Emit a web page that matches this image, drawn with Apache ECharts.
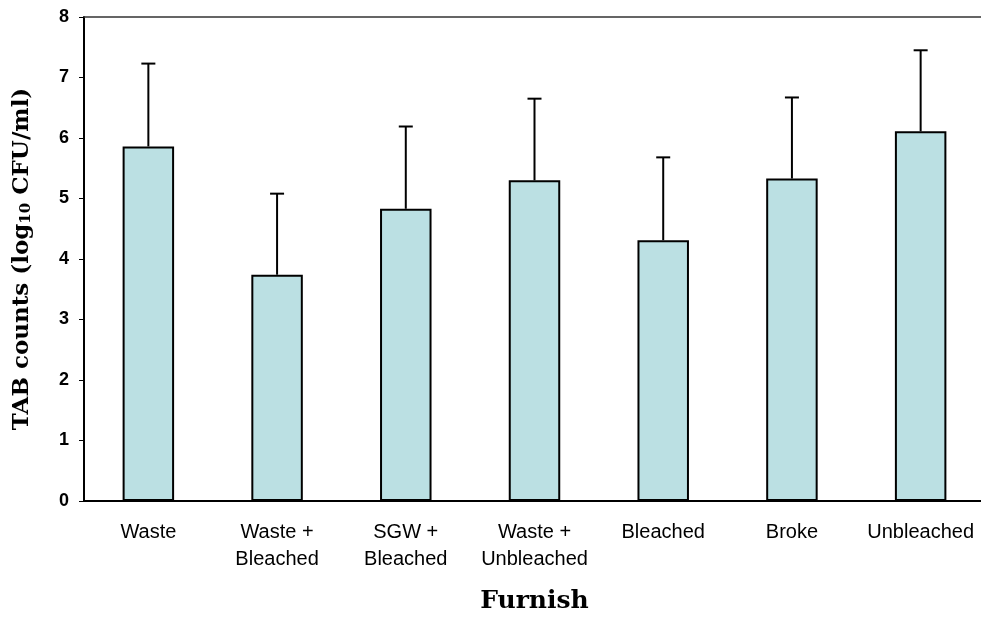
<!DOCTYPE html>
<html>
<head>
<meta charset="utf-8">
<script src="https://cdn.jsdelivr.net/npm/echarts@6/dist/echarts.min.js"></script>
<style>
  html, body { margin: 0; padding: 0; background: #fff; }
  #main { width: 981px; height: 622px; }
</style>
</head>
<body>
<div id="main"></div>
<script>
const categories = ["Waste", "Waste +\nBleached", "SGW +\nBleached", "Waste +\nUnbleached", "Bleached", "Broke", "Unbleached"];
const means = [5.86, 3.74, 4.83, 5.30, 4.31, 5.33, 6.11];
const errors = [1.37, 1.34, 1.36, 1.35, 1.37, 1.34, 1.34];
const yTicks = [0, 1, 2, 3, 4, 5, 6, 7, 8];

const chart = echarts.init(document.getElementById("main"));

const titleFont = "DejaVu Serif";

const option = {
  animation: false,
  grid: {
    left: 84,
    top: 17,
    right: -4,
    bottom: 121,
    outerBoundsMode: "none",
    containLabel: false,
  },
  xAxis: [
    {
      type: "category",
      data: categories,
      name: "Furnish",
      nameLocation: "middle",
      nameGap: 88,
      nameTextStyle: {
        fontFamily: titleFont,
        fontWeight: "bold",
        fontSize: 25,
        color: "#000",
      },
      axisLine: { lineStyle: { color: "#000", width: 2 } },
      axisTick: { length: 5, lineStyle: { color: "#000", width: 1 } },
      axisLabel: {
        fontFamily: "Liberation Sans",
        fontSize: 20,
        color: "#000",
        lineHeight: 27,
        margin: 18,
        interval: 0,
      },
    },
    {
      // top frame line only
      type: "category",
      position: "top",
      data: categories,
      axisLine: { lineStyle: { color: "#333", width: 1.5 } },
      axisTick: { show: false },
      axisLabel: { show: false },
    },
  ],
  yAxis: {
    type: "value",
    min: yTicks[0],
    max: yTicks[yTicks.length - 1],
    interval: 1,
    name: "{a|TAB counts (log}{s|10}{a| CFU/ml)}",
    nameLocation: "middle",
    nameGap: 50,
    nameTextStyle: {
      rich: {
        a: { fontFamily: titleFont, fontWeight: "bold", fontSize: 23, color: "#000" },
        s: { fontFamily: titleFont, fontWeight: "bold", fontSize: 15, color: "#000", verticalAlign: "bottom", padding: [8, 0, 0, 0] },
      },
    },
    axisLine: { show: true, lineStyle: { color: "#000", width: 2 } },
    axisTick: { show: true, length: 5, lineStyle: { color: "#000", width: 1 } },
    axisLabel: {
      fontFamily: "Liberation Sans",
      fontWeight: "bold",
      fontSize: 18,
      color: "#000",
      margin: 15,
    },
    splitLine: { show: false },
  },
  series: [
    {
      type: "bar",
      data: means,
      barWidth: "40%",
      itemStyle: { color: "#BBE0E3", borderColor: "#000", borderWidth: 2 },
      z: 2,
    },
    {
      type: "custom",
      data: means.map((m, i) => [i, m, m + errors[i]]),
      z: 3,
      renderItem: function (params, api) {
        const i = api.value(0);
        const lo = api.coord([i, api.value(1)]);
        const hi = api.coord([i, api.value(2)]);
        const style = { stroke: "#000", lineWidth: 2 };
        return {
          type: "group",
          children: [
            { type: "line", shape: { x1: lo[0], y1: lo[1], x2: hi[0], y2: hi[1] }, style: style },
            { type: "line", shape: { x1: hi[0] - 7, y1: hi[1], x2: hi[0] + 7, y2: hi[1] }, style: style },
          ],
        };
      },
    },
  ],
};

chart.setOption(option);
</script>
</body>
</html>
